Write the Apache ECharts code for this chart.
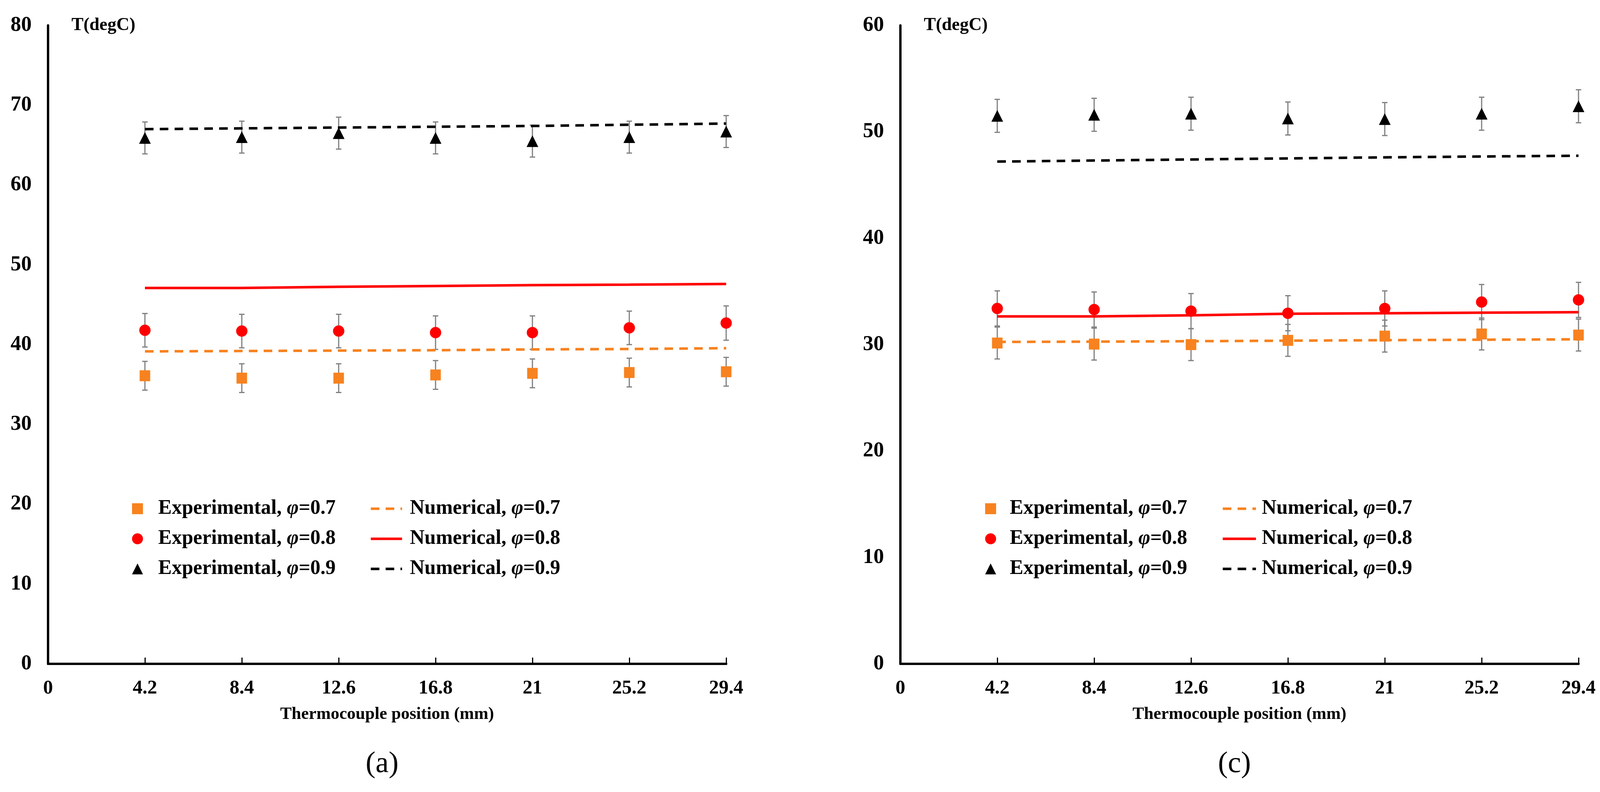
<!DOCTYPE html>
<html>
<head>
<meta charset="utf-8">
<script src="https://cdn.jsdelivr.net/npm/echarts/dist/echarts.min.js"></script>
<style>
  html, body { margin: 0; padding: 0; background: #fff; }
  #chart { width: 4103px; height: 2027px; }
</style>
</head>
<body>
<div id="chart"></div>
<script>
// ---------- data ----------
const positions = [4.2, 8.4, 12.6, 16.8, 21, 25.2, 29.4];
const xTicks = [0, 4.2, 8.4, 12.6, 16.8, 21, 25.2, 29.4];

// Panel (a)
const expA07 = [36.1, 35.8, 35.8, 36.2, 36.4, 36.5, 36.6];
const errA07 = [1.8, 1.8, 1.8, 1.8, 1.8, 1.8, 1.8];
const expA08 = [41.8, 41.7, 41.7, 41.5, 41.5, 42.1, 42.7];
const errA08 = [2.1, 2.1, 2.1, 2.1, 2.1, 2.1, 2.15];
const expA09 = [65.9, 66.0, 66.5, 65.9, 65.5, 66.0, 66.7];
const errA09 = [2.0, 2.0, 2.0, 2.0, 2.0, 2.0, 2.0];
const numA07 = [39.15, 39.2, 39.25, 39.3, 39.4, 39.45, 39.55];
const numA08 = [47.1, 47.1, 47.25, 47.35, 47.45, 47.52, 47.6];
const numA09 = [67.0, 67.1, 67.2, 67.3, 67.4, 67.55, 67.7];

// Panel (c)
const expC07 = [30.15, 30.05, 30.0, 30.4, 30.8, 31.0, 30.9];
const errC07 = [1.5, 1.5, 1.5, 1.5, 1.5, 1.5, 1.5];
const expC08 = [33.4, 33.3, 33.15, 32.95, 33.4, 34.0, 34.2];
const errC08 = [1.65, 1.65, 1.65, 1.65, 1.65, 1.65, 1.65];
const expC09 = [51.5, 51.6, 51.7, 51.25, 51.2, 51.7, 52.4];
const errC09 = [1.55, 1.55, 1.55, 1.55, 1.55, 1.55, 1.55];
const numC07 = [30.25, 30.28, 30.32, 30.37, 30.42, 30.46, 30.5];
const numC08 = [32.65, 32.65, 32.75, 32.9, 32.95, 33.0, 33.05];
const numC09 = [47.2, 47.3, 47.4, 47.5, 47.6, 47.68, 47.75];

const yMaxA = 80, yMaxC = 60, yStep = 10;
const xMax = 29.4, xStep = 4.2;

const names = {
  e7: 'Experimental, φ=0.7', e8: 'Experimental, φ=0.8', e9: 'Experimental, φ=0.9',
  n7: 'Numerical, φ=0.7', n8: 'Numerical, φ=0.8', n9: 'Numerical, φ=0.9'
};

// ---------- styles ----------
const FONT = "'Liberation Serif', 'Times New Roman', serif";
const ORANGE = '#F7821F', RED = '#FF0000', BLACK = '#000000', GREY = '#7F7F7F';
const DASH = [22, 16];

const pairs = (ys) => positions.map((x, i) => [x, ys[i]]);
const triples = (ys, es) => positions.map((x, i) => [x, ys[i], es[i]]);

function errRender(params, api) {
  const x = api.value(0), v = api.value(1), e = api.value(2);
  const top = api.coord([x, v + e]);
  const bot = api.coord([x, v - e]);
  const hw = 7;
  const st = { stroke: GREY, lineWidth: 3 };
  return {
    type: 'group',
    children: [
      { type: 'line', shape: { x1: top[0], y1: top[1], x2: bot[0], y2: bot[1] }, style: st },
      { type: 'line', shape: { x1: top[0] - hw, y1: top[1], x2: top[0] + hw, y2: top[1] }, style: st },
      { type: 'line', shape: { x1: bot[0] - hw, y1: bot[1], x2: bot[0] + hw, y2: bot[1] }, style: st }
    ]
  };
}

function errSeries(idx, ys, es) {
  return {
    type: 'custom', xAxisIndex: idx, yAxisIndex: idx, renderItem: errRender,
    data: triples(ys, es), encode: { x: 0, y: 1 }, z: 1, silent: true
  };
}
function expSeries(idx, name, ys, symbol, size, color) {
  return {
    type: 'scatter', name, xAxisIndex: idx, yAxisIndex: idx, data: pairs(ys),
    symbol, symbolSize: size, itemStyle: { color, opacity: 1 }, z: 4
  };
}
function numSeries(idx, name, ys, color, type) {
  return {
    type: 'line', name, xAxisIndex: idx, yAxisIndex: idx, data: pairs(ys),
    symbol: 'none', showSymbol: false,
    lineStyle: { color, width: 6.5, type: type === 'dashed' ? DASH : 'solid' },
    itemStyle: { color }, z: 3
  };
}

function xAxisOpt(idx) {
  return {
    type: 'value', gridIndex: idx, min: 0, max: xMax, interval: xStep,
    name: 'Thermocouple position (mm)', nameLocation: 'middle', nameGap: 130,
    nameTextStyle: { fontFamily: FONT, fontWeight: 'bold', fontSize: 44, color: '#000', verticalAlign: 'middle' },
    axisLine: { show: true, lineStyle: { color: '#000', width: 6 } },
    axisTick: { show: true, inside: true, length: 16, lineStyle: { color: '#000', width: 3 } },
    axisLabel: {
      fontFamily: FONT, fontWeight: 'bold', fontSize: 50, color: '#000', margin: 38,
      formatter: (v) => String(Math.round(v * 10) / 10)
    },
    splitLine: { show: false }
  };
}
function yAxisOpt(idx, max) {
  return {
    type: 'value', gridIndex: idx, min: 0, max, interval: yStep,
    name: 'T(degC)', nameLocation: 'end', nameGap: 0,
    nameTextStyle: { fontFamily: FONT, fontWeight: 'bold', fontSize: 46, color: '#000', align: 'left', verticalAlign: 'middle', padding: [0, 0, 0, 60] },
    axisLine: { show: true, lineStyle: { color: '#000', width: 6 } },
    axisTick: { show: false },
    axisLabel: { fontFamily: FONT, fontWeight: 'bold', fontSize: 54, color: '#000', margin: 42 },
    splitLine: { show: false }
  };
}

const legendText = {
  fontFamily: FONT, fontWeight: 'bold', fontSize: 52, color: '#000', lineHeight: 52,
  rich: { i: { fontFamily: FONT, fontWeight: 'bold', fontStyle: 'italic', fontSize: 52, color: '#000', lineHeight: 52 } }
};
const fmt = (n) => n.replace('φ', '{i|φ}');
function legendOpt(left, data, w, pad, isLine) {
  const o = {
    orient: 'vertical', left, top: 1276, padding: 0, itemGap: 25,
    itemWidth: w, itemHeight: 28, data, formatter: fmt, selectedMode: false,
    textStyle: Object.assign({}, legendText, { padding: [0, 0, 0, pad] })
  };
  if (isLine) {
    o.itemStyle = { opacity: 0, borderWidth: 0 };
    o.lineStyle = { width: 6.5, opacity: 1 };
  } else {
    o.itemStyle = { opacity: 1 };
  }
  return o;
}

const option = {
  backgroundColor: '#fff',
  animation: false,
  grid: [
    { left: 123, right: 2244, top: 65, bottom: 328 },
    { left: 2305, right: 62, top: 65, bottom: 328 }
  ],
  xAxis: [xAxisOpt(0), xAxisOpt(1)],
  yAxis: [yAxisOpt(0, yMaxA), yAxisOpt(1, yMaxC)],
  legend: [
    legendOpt(338, [names.e7, names.e8, names.e9], 28, 34, false),
    legendOpt(946, [names.n7, names.n8, names.n9], 80, 15, true),
    legendOpt(2522, [names.e7, names.e8, names.e9], 28, 30, false),
    legendOpt(3127, [names.n7, names.n8, names.n9], 85, 10, true)
  ],
  graphic: [
    { type: 'text', left: 978 - 42, top: 1918, style: { text: '(a)', font: "normal 76px 'Liberation Serif', serif", fill: '#000' } },
    { type: 'text', left: 3160 - 42, top: 1918, style: { text: '(c)', font: "normal 76px 'Liberation Serif', serif", fill: '#000' } }
  ],
  series: [
    errSeries(0, expA07, errA07), errSeries(0, expA08, errA08), errSeries(0, expA09, errA09),
    numSeries(0, names.n7, numA07, ORANGE, 'dashed'),
    numSeries(0, names.n8, numA08, RED, 'solid'),
    numSeries(0, names.n9, numA09, BLACK, 'dashed'),
    expSeries(0, names.e7, expA07, 'rect', [27, 28], ORANGE),
    expSeries(0, names.e8, expA08, 'circle', 29, RED),
    expSeries(0, names.e9, expA09, 'triangle', 30, BLACK),

    errSeries(1, expC07, errC07), errSeries(1, expC08, errC08), errSeries(1, expC09, errC09),
    numSeries(1, names.n7, numC07, ORANGE, 'dashed'),
    numSeries(1, names.n8, numC08, RED, 'solid'),
    numSeries(1, names.n9, numC09, BLACK, 'dashed'),
    expSeries(1, names.e7, expC07, 'rect', [27, 28], ORANGE),
    expSeries(1, names.e8, expC08, 'circle', 29, RED),
    expSeries(1, names.e9, expC09, 'triangle', 30, BLACK)
  ]
};

const chart = echarts.init(document.getElementById('chart'), null, { renderer: 'canvas' });
chart.setOption(option);
</script>
</body>
</html>
